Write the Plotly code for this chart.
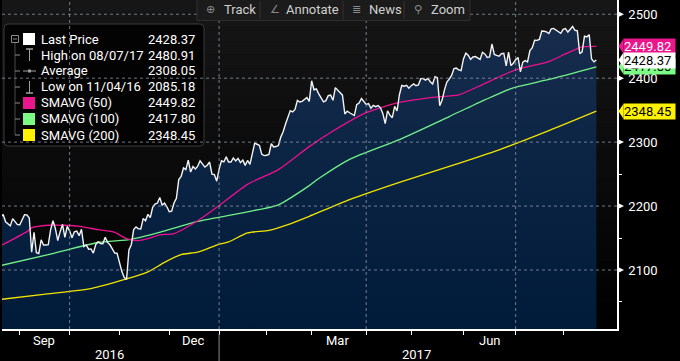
import plotly.graph_objects as go
import pandas as pd

# ---------------- data ----------------
START_DATE = "2016-08-22"
END_DATE = "2017-08-21"
HOLIDAYS = ["2016-09-05", "2016-11-24", "2016-12-26", "2017-01-02", "2017-01-16",
            "2017-02-20", "2017-04-14", "2017-05-29", "2017-07-04"]

PRICE_AUG16 = [2182.64, 2186.90, 2175.44, 2172.47, 2169.04, 2180.38, 2176.12, 2170.95]
PRICE_SEP16 = [2170.86, 2179.98, 2186.48, 2186.16, 2181.30, 2127.81, 2159.04, 2127.02, 2125.77,
               2147.26, 2139.16, 2139.12, 2139.76, 2163.12, 2177.18, 2164.69, 2146.10, 2159.93,
               2171.37, 2151.13, 2168.27]
PRICE_OCT16 = [2161.20, 2150.49, 2159.73, 2160.77, 2153.74, 2163.66, 2136.73, 2139.18, 2132.55,
               2132.98, 2126.50, 2139.60, 2144.29, 2141.34, 2141.16, 2151.33, 2143.16, 2139.43,
               2133.04, 2126.41, 2126.15]
PRICE_NOV16 = [2111.72, 2097.94, 2088.66, 2085.18, 2131.52, 2139.56, 2163.26, 2167.48, 2164.45,
               2164.20, 2180.39, 2176.94, 2187.12, 2181.90, 2198.18, 2202.94, 2204.72, 2213.35,
               2201.72, 2204.66, 2198.81]
PRICE_DEC16 = [2191.08, 2191.95, 2204.71, 2212.23, 2241.35, 2246.19, 2259.53, 2256.96, 2271.72,
               2253.28, 2262.03, 2258.07, 2262.53, 2270.76, 2265.18, 2260.96, 2263.79, 2268.88,
               2249.92, 2249.26, 2238.83]
PRICE_JAN17 = [2257.83, 2270.75, 2269.00, 2276.98, 2268.90, 2268.90, 2275.32, 2270.44, 2274.64,
               2267.89, 2271.89, 2263.69, 2271.31, 2265.20, 2280.07, 2298.37, 2296.68, 2294.69,
               2280.90, 2278.87]
PRICE_FEB17 = [2279.55, 2280.85, 2297.42, 2292.56, 2293.08, 2294.67, 2307.87, 2316.10, 2328.25,
               2337.58, 2349.25, 2347.22, 2351.16, 2365.38, 2362.82, 2363.81, 2367.34, 2369.75,
               2363.64]
PRICE_MAR17 = [2395.96, 2381.92, 2383.12, 2375.31, 2368.39, 2362.98, 2364.87, 2372.60, 2373.47,
               2365.45, 2385.26, 2381.38, 2378.25, 2373.47, 2344.02, 2348.45, 2345.96, 2343.98,
               2341.59, 2358.57, 2361.13, 2368.06, 2362.72]
PRICE_APR17 = [2358.84, 2360.16, 2352.95, 2357.49, 2355.54, 2357.16, 2353.78, 2344.93, 2328.95,
               2349.01, 2342.19, 2338.17, 2355.84, 2348.69, 2374.15, 2388.61, 2387.45, 2388.77,
               2384.20]
PRICE_MAY17 = [2388.33, 2391.17, 2388.13, 2389.52, 2399.29, 2399.38, 2396.92, 2399.63, 2394.44,
               2390.90, 2402.32, 2400.67, 2357.03, 2365.72, 2381.73, 2394.02, 2398.42, 2404.39,
               2415.07, 2415.82, 2412.91, 2411.80]
PRICE_JUN17 = [2430.06, 2439.07, 2436.10, 2429.33, 2433.14, 2433.79, 2431.77, 2429.39, 2440.35,
               2437.92, 2432.46, 2433.15, 2453.46, 2437.03, 2435.61, 2434.50, 2438.30, 2439.07,
               2419.38, 2440.69, 2419.70, 2423.41]
PRICE_JUL17 = [2429.01, 2432.54, 2409.75, 2425.18, 2427.43, 2425.53, 2443.25, 2447.83, 2459.27,
               2459.14, 2460.61, 2473.83, 2473.45, 2472.54, 2469.91, 2477.13, 2477.83, 2475.42,
               2472.10, 2470.30]
PRICE_AUG17 = [2476.35, 2477.57, 2472.16, 2476.83, 2480.91, 2474.92, 2474.02, 2438.21, 2441.32,
               2465.84, 2464.61, 2468.11, 2430.01, 2425.55, 2428.37]

SMA50_DATES = ["2016-08-22", "2016-09-07", "2016-09-09", "2016-09-20", "2016-09-29", "2016-10-10",
               "2016-10-19", "2016-10-28", "2016-11-04", "2016-11-11", "2016-11-17", "2016-11-25",
               "2016-12-05", "2016-12-19", "2016-12-30", "2017-01-20", "2017-02-08", "2017-02-28",
               "2017-03-13", "2017-04-03", "2017-04-24", "2017-05-12", "2017-05-30", "2017-06-13",
               "2017-07-03", "2017-07-24", "2017-08-02", "2017-08-11", "2017-08-21"]
SMA50_VALUES = [2138, 2160, 2166, 2170, 2170, 2168, 2163, 2159, 2149, 2146, 2149, 2155, 2157, 2177,
                2198, 2234, 2257, 2293, 2315, 2346, 2362, 2370, 2374, 2390, 2413, 2426, 2438, 2449,
                2449.82]

SMA100_DATES = ["2016-08-22", "2016-09-20", "2016-10-19", "2016-11-08", "2016-11-25", "2016-12-19",
                "2017-01-20", "2017-02-08", "2017-02-28", "2017-03-06", "2017-03-23", "2017-04-24",
                "2017-05-23", "2017-06-14", "2017-06-30", "2017-07-24", "2017-08-21"]
SMA100_VALUES = [2107, 2124, 2143, 2148, 2159, 2176, 2191, 2202, 2232, 2243, 2273, 2304, 2340, 2366,
                 2385, 2398, 2417.80]

SMA200_DATES = ["2016-08-22", "2016-09-16", "2016-10-14", "2016-11-04", "2016-11-17", "2016-11-29",
                "2016-12-08", "2016-12-19", "2016-12-30", "2017-01-09", "2017-01-20", "2017-02-02",
                "2017-02-14", "2017-02-28", "2017-03-23", "2017-04-24", "2017-05-23", "2017-06-22",
                "2017-07-24", "2017-08-21"]
SMA200_VALUES = [2054, 2062, 2071, 2086, 2097, 2112, 2124, 2128, 2139, 2144, 2158, 2162, 2171, 2184,
                 2210, 2237, 2262, 2288, 2318, 2348.45]

LEGEND_LABELS = ["Last Price", "High on 08/07/17", "Average", "Low on 11/04/16",
                 "SMAVG (50)", "SMAVG (100)", "SMAVG (200)"]
LEGEND_VALUES = ["2428.37", "2480.91", "2308.05", "2085.18", "2449.82", "2417.80", "2348.45"]

Y_TICKS = [2100, 2200, 2300, 2400, 2500]
Y_MINOR = [2050, 2150, 2250, 2350, 2450]
Y_RANGE = [2007.7, 2522.3]
MONTH_TICKS = ["2016-09-01", "2016-10-03", "2016-11-01", "2016-12-01", "2017-01-03", "2017-02-01",
               "2017-03-01", "2017-04-03", "2017-05-01", "2017-06-01", "2017-07-03", "2017-08-01"]
QUARTER_GRID = ["2016-10-03", "2017-01-03", "2017-04-03", "2017-07-03"]
MONTH_LABELS = ["Sep", "Dec", "Mar", "Jun"]
MONTH_LABEL_DATES = ["2016-09-16", "2016-12-15", "2017-03-16", "2017-06-16"]
YEAR_LABELS = ["2016", "2017"]
YEAR_LABEL_DATES = ["2016-10-26", "2017-05-03"]
YEAR_SPLIT = "2017-01-03"
X_RANGE = ["2016-08-22 12:00", "2017-08-31 17:00"]

TOOLBAR = ["Track", "Annotate", "News", "Zoom"]
TOOLBAR_ICONS = ["\u2295", "\u2220", "\u2263", "\u26b2"]

PRICE = (PRICE_AUG16 + PRICE_SEP16 + PRICE_OCT16 + PRICE_NOV16 + PRICE_DEC16 + PRICE_JAN17 +
         PRICE_FEB17 + PRICE_MAR17 + PRICE_APR17 + PRICE_MAY17 + PRICE_JUN17 + PRICE_JUL17 +
         PRICE_AUG17)
DATES = [d for d in pd.bdate_range(START_DATE, END_DATE) if d.strftime("%Y-%m-%d") not in HOLIDAYS]
assert len(DATES) == len(PRICE)

# ---------------- styling ----------------
W, H = 680, 361
ML, MR, MT, MB = 2, 63, 0, 32
PW, PH = W - ML - MR, H - MT - MB
FONT = "Roboto, 'DejaVu Sans', sans-serif"
C_MAG, C_GRN, C_YEL = "#ec118c", "#72f08a", "#f2e400"
T_MAG, T_GRN, T_YEL = "#ea168c", "#7dfc85", "#fff200"
GRID = "rgba(140,150,165,0.8)"


def X(px):
    return (px - ML) / PW


def Y(py):
    return (MT + PH - py) / PH


fig = go.Figure()

# price fill
fig.add_trace(go.Scatter(
    x=DATES, y=PRICE, mode="lines", line=dict(width=0, color="rgba(0,0,0,0)"),
    fill="tozeroy",
    fillgradient=dict(type="vertical", start=Y_RANGE[0], stop=Y_RANGE[1],
                      colorscale=[[0, "#001a3a"], [0.5, "#0b2444"], [1, "#1a2e4e"]]),
    hoverinfo="skip", showlegend=False))

for d, v, c in [(SMA200_DATES, SMA200_VALUES, C_YEL), (SMA100_DATES, SMA100_VALUES, C_GRN),
                (SMA50_DATES, SMA50_VALUES, C_MAG)]:
    fig.add_trace(go.Scatter(x=d, y=v, mode="lines", line=dict(color=c, width=1.3, shape="spline", smoothing=0.6),
                             showlegend=False, hoverinfo="skip"))

fig.add_trace(go.Scatter(x=DATES, y=PRICE, mode="lines", line=dict(color="#f4f4f4", width=1.4),
                         showlegend=False, hoverinfo="skip"))

shapes = []
# background vertical gradient of plot area
NB = 24
for k in range(NB):
    g = int(round(22 * (1 - (k + 0.5) / NB)))
    shapes.append(dict(type="rect", xref="paper", yref="paper", x0=0, x1=1,
                       y0=1 - (k + 1) / NB, y1=1 - k / NB, layer="below",
                       fillcolor=f"rgb({g},{g},{g})", line=dict(width=0)))

# legend box (rounded)
x0, x1, y0, y1, r = 4, 204, 24, 146, 4
path = (f"M {X(x0 + r)},{Y(y0)} L {X(x1 - r)},{Y(y0)} Q {X(x1)},{Y(y0)} {X(x1)},{Y(y0 + r)} "
        f"L {X(x1)},{Y(y1 - r)} Q {X(x1)},{Y(y1)} {X(x1 - r)},{Y(y1)} L {X(x0 + r)},{Y(y1)} "
        f"Q {X(x0)},{Y(y1)} {X(x0)},{Y(y1 - r)} L {X(x0)},{Y(y0 + r)} Q {X(x0)},{Y(y0)} {X(x0 + r)},{Y(y0)} Z")
shapes.append(dict(type="path", xref="paper", yref="paper", path=path, fillcolor="#030303",
                   line=dict(color="#3a3a3a", width=1), layer="above"))

# gridlines above the fill
for v in Y_TICKS:
    shapes.append(dict(type="line", xref="paper", yref="y", x0=0, x1=1, y0=v, y1=v, layer="above",
                       line=dict(color=GRID, width=1, dash="3px,3px")))
for d in QUARTER_GRID:
    shapes.append(dict(type="line", xref="x", yref="paper", x0=d, x1=d, y0=0, y1=1, layer="above",
                       line=dict(color=GRID, width=1, dash="3px,3px")))

# year separator below axis
shapes.append(dict(type="line", xref="x", yref="paper", x0=YEAR_SPLIT, x1=YEAR_SPLIT,
                   y0=Y(334), y1=Y(361), line=dict(color="#8a8a8a", width=1)))

# y-axis arrow ticks
for v in Y_TICKS:
    dv = 3.5 / 0.64
    shapes.append(dict(type="path", xref="paper", yref="y", layer="above",
                       path=f"M {X(617)},{v - dv} L {X(624)},{v} L {X(617)},{v + dv} Z",
                       fillcolor="white", line=dict(width=0)))

# legend tree + icons
LROW = [39 + 16 * i for i in range(7)]
TREE = "#8c8c8c"
shapes.append(dict(type="rect", xref="paper", yref="paper", x0=X(11.5), x1=X(18.5), y0=Y(35.5), y1=Y(42.5),
                   line=dict(color=TREE, width=1), layer="above"))
shapes.append(dict(type="line", xref="paper", yref="paper", x0=X(13), x1=X(17), y0=Y(39), y1=Y(39),
                   line=dict(color=TREE, width=1), layer="above"))
shapes.append(dict(type="line", xref="paper", yref="paper", x0=X(15), x1=X(15), y0=Y(42.5), y1=Y(LROW[-1]),
                   line=dict(color=TREE, width=1, dash="1px,1px"), layer="above"))
for ry in LROW[1:]:
    shapes.append(dict(type="line", xref="paper", yref="paper", x0=X(15), x1=X(20), y0=Y(ry), y1=Y(ry),
                       line=dict(color=TREE, width=1), layer="above"))
sq = [("#ffffff", LROW[0]), (T_MAG, LROW[4]), (T_GRN, LROW[5]), (T_YEL, LROW[6])]
for col, ry in sq:
    shapes.append(dict(type="rect", xref="paper", yref="paper", x0=X(23), x1=X(35), y0=Y(ry - 6),
                       y1=Y(ry + 6), fillcolor=col, line=dict(width=0), layer="above"))
ICON = "#a0a0a0"
shapes.append(dict(type="line", xref="paper", yref="paper", x0=X(26), x1=X(33), y0=Y(LROW[1] - 6),
                   y1=Y(LROW[1] - 6), line=dict(color=ICON, width=1.5), layer="above"))
shapes.append(dict(type="line", xref="paper", yref="paper", x0=X(29.5), x1=X(29.5), y0=Y(LROW[1] - 6),
                   y1=Y(LROW[1] + 6), line=dict(color=ICON, width=1), layer="above"))
shapes.append(dict(type="line", xref="paper", yref="paper", x0=X(23), x1=X(36), y0=Y(LROW[2]),
                   y1=Y(LROW[2]), line=dict(color=ICON, width=1), layer="above"))
shapes.append(dict(type="rect", xref="paper", yref="paper", x0=X(28), x1=X(31), y0=Y(LROW[2] - 1.5),
                   y1=Y(LROW[2] + 1.5), fillcolor=ICON, line=dict(width=0), layer="above"))
shapes.append(dict(type="line", xref="paper", yref="paper", x0=X(26), x1=X(33), y0=Y(LROW[3] + 6),
                   y1=Y(LROW[3] + 6), line=dict(color=ICON, width=1.5), layer="above"))
shapes.append(dict(type="line", xref="paper", yref="paper", x0=X(29.5), x1=X(29.5), y0=Y(LROW[3] - 6),
                   y1=Y(LROW[3] + 6), line=dict(color=ICON, width=1), layer="above"))

# toolbar
shapes.append(dict(type="rect", xref="paper", yref="paper", x0=X(197), x1=X(470), y0=Y(20.5), y1=Y(-1),
                   fillcolor="#1b1b1b", line=dict(color="#2e2e2e", width=1), layer="above"))
for sx in [260, 343, 404]:
    shapes.append(dict(type="line", xref="paper", yref="paper", x0=X(sx), x1=X(sx), y0=Y(1), y1=Y(19.5),
                       line=dict(color="#333333", width=1), layer="above"))

annotations = []
TAGS = [(SMA50_VALUES[-1], T_MAG, "white"), (SMA100_VALUES[-1], T_GRN, "#0a0a0a"),
        (PRICE[-1], "#ffffff", "#000000"), (SMA200_VALUES[-1], T_YEL, "#000000")]
dv = 7.5 / 0.64
for v, bg, fg in TAGS:
    shapes.append(dict(type="path", xref="paper", yref="y", layer="above",
                       path=f"M {X(618.5)},{v} L {X(623.5)},{v - dv} L {X(623.5)},{v + dv} Z",
                       fillcolor=bg, line=dict(width=0)))
    annotations.append(dict(xref="paper", yref="y", x=X(623), y=v, xanchor="left", yanchor="middle",
                            text=f"{v:.2f}", showarrow=False, bgcolor=bg, width=51, height=15,
                            borderpad=0, align="left", font=dict(family=FONT, size=13, color=fg)))

for ry, lab, val in zip(LROW, LEGEND_LABELS, LEGEND_VALUES):
    annotations.append(dict(xref="paper", yref="paper", x=X(39), y=Y(ry), xanchor="left",
                            yanchor="middle", text=lab, showarrow=False,
                            font=dict(family=FONT, size=13, color="white")))
    annotations.append(dict(xref="paper", yref="paper", x=X(197), y=Y(ry), xanchor="right",
                            yanchor="middle", text=val, showarrow=False,
                            font=dict(family=FONT, size=13, color="white")))

for cx, ix, lab, ic in zip([239.5, 312.5, 385, 447.5], [210, 275, 356, 418], TOOLBAR, TOOLBAR_ICONS):
    annotations.append(dict(xref="paper", yref="paper", x=X(cx), y=Y(10), xanchor="center",
                            yanchor="middle", text=lab, showarrow=False,
                            font=dict(family=FONT, size=13, color="#cfcfcf")))
    annotations.append(dict(xref="paper", yref="paper", x=X(ix), y=Y(10), xanchor="center",
                            yanchor="middle", text=ic, showarrow=False,
                            font=dict(family="DejaVu Sans", size=11, color="#8a8a8a")))

for d, lab in zip(MONTH_LABEL_DATES, MONTH_LABELS):
    annotations.append(dict(xref="x", yref="paper", x=d, y=Y(340), xanchor="center", yanchor="middle",
                            text=lab, showarrow=False, font=dict(family=FONT, size=13, color="white")))
for d, lab in zip(YEAR_LABEL_DATES, YEAR_LABELS):
    annotations.append(dict(xref="x", yref="paper", x=d, y=Y(354), xanchor="center", yanchor="middle",
                            text=lab, showarrow=False, font=dict(family=FONT, size=13, color="white")))

fig.update_layout(
    width=W, height=H, margin=dict(l=ML, r=MR, t=MT, b=MB, pad=0, autoexpand=False),
    paper_bgcolor="#000000", plot_bgcolor="#0c0c0c", showlegend=False,
    shapes=shapes, annotations=annotations,
    xaxis=dict(type="date", range=X_RANGE, automargin=False,
               rangebreaks=[dict(bounds=["sat", "mon"]), dict(values=HOLIDAYS)],
               tickmode="array", tickvals=MONTH_TICKS, ticktext=[""] * len(MONTH_TICKS),
               ticks="outside", ticklen=4, tickcolor="white", tickwidth=1,
               showline=True, linecolor="white", linewidth=1.5, showgrid=False, zeroline=False,
               fixedrange=True),
    yaxis=dict(side="right", range=Y_RANGE, automargin=False, tickmode="array", tickvals=Y_TICKS,
               ticktext=[str(v) for v in Y_TICKS], ticks="outside", ticklen=7, tickcolor="rgba(0,0,0,0)",
               minor=dict(tickmode="array", tickvals=Y_MINOR, ticks="outside", ticklen=3,
                          tickcolor="white", showgrid=False),
               showline=True, linecolor="white", linewidth=1.5, showgrid=False, zeroline=False,
               tickfont=dict(family=FONT, size=13, color="white"), fixedrange=True),
)

fig.write_html("out.html", config={"displayModeBar": False},
               post_script="document.body.style.margin='0';document.body.style.padding='0';"
                           "document.body.style.background='#000';")
